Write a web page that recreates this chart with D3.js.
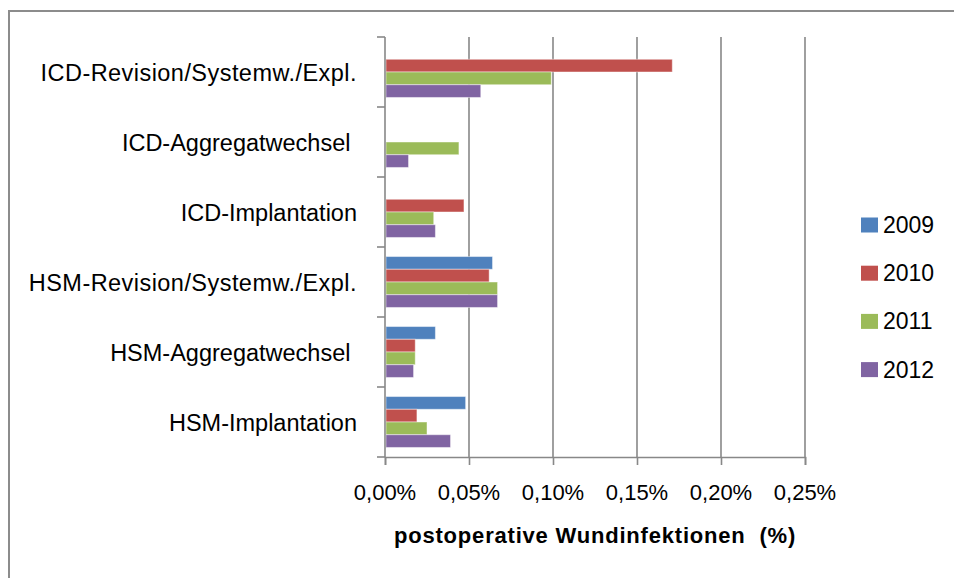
<!DOCTYPE html>
<html>
<head>
<meta charset="utf-8">
<script src="https://cdn.jsdelivr.net/npm/d3@7"></script>
<style>
  html, body { margin: 0; padding: 0; background: #fff; }
  svg { display: block; font-family: "Liberation Sans", Arial, sans-serif; }
  .cat-label { white-space: pre; }
</style>
</head>
<body>
<svg width="954" height="578"></svg>
<script>
const categories = [
  "ICD-Revision/Systemw./Expl.",
  "ICD-Aggregatwechsel ",
  "ICD-Implantation",
  "HSM-Revision/Systemw./Expl.",
  "HSM-Aggregatwechsel ",
  "HSM-Implantation"
];
const years = ["2009", "2010", "2011", "2012"];
// postoperative Wundinfektionen in %, one array per year (null = no bar)
const v2009 = [null, null, null, 0.064, 0.030, 0.048];
const v2010 = [0.171, null, 0.047, 0.062, 0.018, 0.019];
const v2011 = [0.099, 0.044, 0.029, 0.067, 0.018, 0.025];
const v2012 = [0.057, 0.014, 0.030, 0.067, 0.017, 0.039];
const xTicks = [0, 0.05, 0.1, 0.15, 0.2, 0.25];
const colors = ["#4F81BD", "#C0504D", "#9BBB59", "#8064A2"];

const seriesValues = [v2009, v2010, v2011, v2012];

const svg = d3.select("svg");
const margin = { top: 37, left: 385 };
const innerWidth = 420;
const innerHeight = 420;
const axisColor = "#888";

// outer frame (only top and left edges fall inside the picture)
svg.append("path")
  .attr("d", "M9,578V11H954")
  .attr("fill", "none")
  .attr("stroke", "#8c8c8c")
  .attr("stroke-width", 2);

const xScale = d3.scaleLinear().domain([0, 0.25]).range([0, innerWidth]);
const yScale = d3.scaleBand().domain(categories).range([0, innerHeight]);
const ySub = d3.scaleBand().domain(years).range([0, yScale.bandwidth()])
  .paddingInner(0).paddingOuter(0.75);
const color = d3.scaleOrdinal().domain(years).range(colors);
const pct = (d) => d.toFixed(2).replace(".", ",") + "%";

const g = svg.append("g")
  .attr("transform", `translate(${margin.left}, ${margin.top})`);

// vertical gridlines
g.append("g")
  .selectAll("line")
  .data(xTicks.slice(1))
  .enter()
  .append("line")
  .attr("x1", (d) => xScale(d))
  .attr("x2", (d) => xScale(d))
  .attr("y1", 0)
  .attr("y2", innerHeight)
  .attr("stroke", axisColor)
  .attr("stroke-width", 1.6);

// bars
const data = [];
categories.forEach((c, i) => {
  years.forEach((yr, j) => {
    const v = seriesValues[j][i];
    if (v != null) data.push({ cat: c, year: yr, value: v });
  });
});

g.selectAll(".bar")
  .data(data)
  .enter()
  .append("rect")
  .attr("class", "bar")
  .attr("x", xScale(0) + 1)
  .attr("y", (d) => yScale(d.cat) + ySub(d.year))
  .attr("width", (d) => xScale(d.value) - xScale(0) - 1)
  .attr("height", ySub.bandwidth())
  .attr("fill", (d) => color(d.year))
  .attr("stroke", "rgba(255,255,255,0.45)")
  .attr("stroke-width", 1);

// y axis line + ticks at the category boundaries
const bounds = categories.map((c) => yScale(c)).concat([innerHeight]);
g.append("g")
  .selectAll("line")
  .data(bounds)
  .enter()
  .append("line")
  .attr("x1", -8).attr("x2", 0)
  .attr("y1", (d) => d).attr("y2", (d) => d)
  .attr("stroke", axisColor)
  .attr("stroke-width", 1.6);
g.append("line")
  .attr("x1", 0).attr("x2", 0)
  .attr("y1", 0).attr("y2", innerHeight)
  .attr("stroke", axisColor)
  .attr("stroke-width", 1.6);

// category labels
svg.append("g")
  .selectAll("text")
  .data(categories)
  .enter()
  .append("text")
  .attr("class", "cat-label")
  .attr("x", margin.left - 28)
  .attr("y", (d) => margin.top + yScale(d) + yScale.bandwidth() / 2 + 9)
  .attr("text-anchor", "end")
  .attr("font-size", 23.5)
  .attr("letter-spacing", (d) => (d.indexOf("/") >= 0 ? 0.45 : 0))
  .attr("fill", "#000")
  .text((d) => d);

// x axis (line + ticks from d3.axisBottom)
const xAxisG = g.append("g")
  .attr("transform", `translate(0, ${innerHeight})`)
  .call(d3.axisBottom(xScale).tickValues(xTicks).tickSize(8).tickFormat(""));
xAxisG.select(".domain")
  .attr("stroke", axisColor)
  .attr("stroke-width", 1.6);
xAxisG.selectAll(".tick line")
  .attr("stroke", axisColor)
  .attr("stroke-width", 1.6);
xAxisG.selectAll(".tick text").remove();

// x tick labels
svg.append("g")
  .selectAll("text")
  .data(xTicks)
  .enter()
  .append("text")
  .attr("x", (d) => margin.left + xScale(d))
  .attr("y", margin.top + innerHeight + 43)
  .attr("text-anchor", "middle")
  .attr("font-size", 22)
  .attr("fill", "#000")
  .text(pct);

svg.append("text")
  .attr("x", margin.left + innerWidth / 2)
  .attr("y", 543)
  .attr("text-anchor", "middle")
  .attr("font-size", 22)
  .attr("font-weight", "bold")
  .attr("letter-spacing", 0.8)
  .attr("fill", "#000")
  .style("white-space", "pre")
  .text("postoperative Wundinfektionen  (%)");

// legend
const legend = svg.selectAll("g.legend")
  .data(years)
  .enter()
  .append("g")
  .attr("class", "legend")
  .attr("transform", (d, i) => `translate(861, ${225 + i * 48.2})`);

legend.append("rect")
  .attr("x", 0).attr("y", -7.5)
  .attr("width", 17).attr("height", 15)
  .attr("fill", (d) => color(d));

legend.append("text")
  .attr("x", 22)
  .attr("y", 8)
  .attr("font-size", 23)
  .attr("fill", "#000")
  .text((d) => d);
</script>
</body>
</html>
